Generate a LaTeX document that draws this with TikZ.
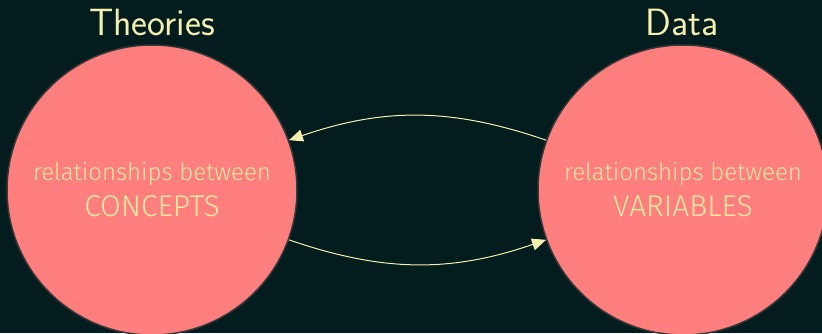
\documentclass[tikz,border=0pt]{standalone}
\usepackage{fontspec}
\usetikzlibrary{arrows.meta}
\newfontfamily\innerfont{Fira Sans Light}
\definecolor{bgteal}{RGB}{3,28,30}
\definecolor{blobfill}{RGB}{255,127,127}
\definecolor{blobedge}{RGB}{55,55,55}
\definecolor{titlecol}{RGB}{245,240,175}
\definecolor{innercol}{RGB}{255,232,160}
\definecolor{linkcol}{RGB}{245,240,175}
\newcommand{\smallline}{\fontsize{24}{35}\selectfont}
\newcommand{\bigline}{\fontsize{30}{35}\selectfont}
\tikzset{
  blob/.style={circle, fill=blobfill, draw=blobedge, line width=1.5pt,
    minimum size=290pt, inner sep=0pt, align=center, text=innercol,
    font=\innerfont},
  heading/.style={text=titlecol, inner sep=0pt, anchor=base,
    font=\sffamily\fontsize{38}{46}\selectfont},
  link/.style={draw=linkcol, line width=1pt,
    -{Triangle[length=14pt,width=12pt]}}
}
\begin{document}
\begin{tikzpicture}[x=1pt,y=-1pt]
  \fill[bgteal] (0,0) rectangle (822,333);
  \useasboundingbox (0,0) rectangle (822,333);
  \node[blob] (theory) at (152,190) {\smallline relationships between\\[9pt]\bigline CONCEPTS};
  \node[blob] (data) at (683,190) {\smallline relationships between\\[9pt]\bigline VARIABLES};
  \node[heading] (theorytitle) at (152,35) {Theories};
  \node[heading] (datatitle) at (682,35) {Data};
  \draw[link] (data.160) to[bend right=19] (theory.20);
  \draw[link] (theory.-20) to[bend right=19] (data.200);
\end{tikzpicture}
\end{document}
